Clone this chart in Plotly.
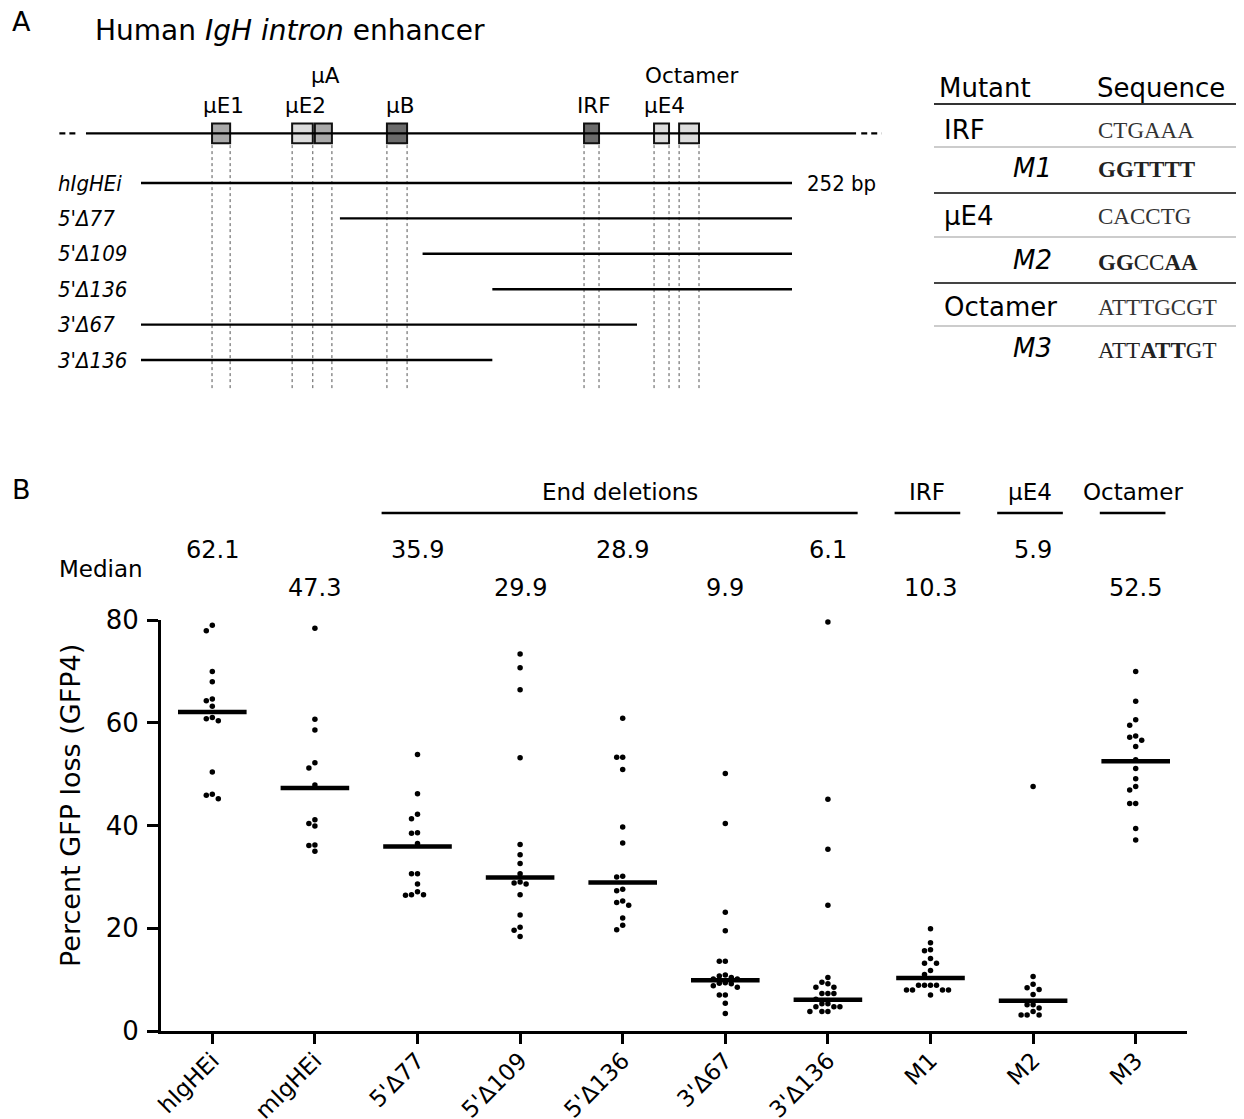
import plotly.graph_objects as go

W, H = 1244, 1119
OFF_X, OFF_Y = 8, 8  # page body margin compensation
FONT = "DejaVu Sans"
COND = "DejaVu Sans Condensed, Liberation Sans Narrow, DejaVu Sans"
SEQF = "Liberation Serif, DejaVu Serif, serif"

# ---------------- Panel B data ----------------
categories = ["hIgHEi", "mIgHEi", "5'Δ77", "5'Δ109", "5'Δ136",
              "3'Δ67", "3'Δ136", "M1", "M2", "M3"]
medians = [62.1, 47.3, 35.9, 29.9, 28.9, 9.9, 6.1, 10.3, 5.9, 52.5]

v_hIgHEi = [79.0, 77.9, 70.0, 68.0, 64.6, 64.3, 63.2, 61.0, 60.8, 60.4, 50.4, 46.1, 45.9, 45.2]
v_mIgHEi = [78.4, 60.7, 58.6, 52.2, 51.2, 47.9, 41.1, 40.4, 39.9, 36.2, 36.1, 35.0]
v_d5_77 = [53.8, 46.2, 42.2, 41.3, 38.6, 38.5, 36.5, 30.6, 30.6, 28.6, 27.1, 26.5, 26.5, 26.4]
v_d5_109 = [73.4, 70.7, 66.4, 53.2, 36.3, 34.3, 32.6, 30.6, 29.0, 28.8, 28.6, 26.5, 22.6, 20.2, 19.6, 18.4]
v_d5_136 = [60.9, 53.3, 53.3, 50.9, 39.7, 36.6, 30.1, 30.0, 27.6, 27.3, 25.3, 25.0, 24.5, 22.0, 20.6, 19.7]
v_d3_67 = [50.1, 40.4, 23.1, 19.5, 13.6, 13.6, 10.9, 10.7, 10.4, 10.1, 10.1, 9.4, 9.3, 9.2,
           8.8, 8.5, 7.0, 7.0, 5.4, 3.4]
v_d3_136 = [79.6, 45.1, 35.4, 24.5, 10.4, 9.5, 9.2, 8.5, 8.5, 7.3, 7.3, 7.3, 6.2, 5.3, 5.3,
            4.7, 4.7, 4.7, 3.8, 3.8, 3.8]
v_M1 = [19.9, 17.2, 15.8, 15.6, 14.1, 13.2, 13.2, 11.8, 11.0, 8.9, 8.9, 8.9, 8.9,
        8.0, 8.0, 8.0, 8.0, 7.0]
v_M2 = [47.6, 10.6, 9.1, 8.4, 8.1, 7.1, 5.1, 5.1, 4.5, 3.8, 3.1, 3.1, 3.1]
v_M3 = [70.0, 64.2, 60.6, 59.5, 57.4, 57.2, 56.6, 55.4, 52.8, 51.1, 49.1, 47.6, 46.9,
        44.3, 44.3, 39.4, 37.2]
group_values = [v_hIgHEi, v_mIgHEi, v_d5_77, v_d5_109, v_d5_136,
                v_d3_67, v_d3_136, v_M1, v_M2, v_M3]

groups = ["End deletions", "IRF", "μE4", "Octamer"]
group_first = [2, 7, 8, 9]
group_last = [6, 7, 8, 9]

y_ticks = [0, 20, 40, 60, 80]

# ---------------- Panel A data ----------------
elements = ["μE1", "μE2", "μA", "μB", "IRF", "μE4", "Octamer"]
el_start = [27.5, 58.5, 67.3, 95.2, 171.5, 198.6, 208.3]
el_end = [34.5, 66.5, 73.9, 103.0, 177.3, 204.4, 216.0]
el_color = ["#a9a9a9", "#dcdcdc", "#a9a9a9", "#6b6b6b", "#6b6b6b", "#dcdcdc", "#dcdcdc"]
el_raised = [False, False, True, False, False, False, True]

constructs = ["hIgHEi", "5'Δ77", "5'Δ109", "5'Δ136", "3'Δ67", "3'Δ136"]
con_start = [0, 77, 109, 136, 0, 0]
con_end = [252, 252, 252, 252, 192, 136]
full_length_label = "252 bp"

table_sites = ["IRF", "μE4", "Octamer"]
table_wt = ["CTGAAA", "CACCTG", "ATTTGCGT"]
table_mut_names = ["M1", "M2", "M3"]
table_mut_seq = ["<b>GGTTTT</b>", "<b>GG</b>CC<b>AA</b>", "ATT<b>ATT</b>GT"]


def px(x):
    return (x - OFF_X) / W


def py(y):
    return 1 - (y - OFF_Y) / H


fig = go.Figure()

# ---- Panel B geometry (layout only)
XL, XR, YT, YB = 161, 1187, 620, 1031
ppu_x = (XR - XL) / 10.0
ppu_y = (YB - YT) / 80.0


def swarm(vals, step=6.0, dmin=6.0):
    placed = []
    offs = [0.0] * len(vals)
    order = sorted(range(len(vals)), key=lambda i: -vals[i])
    cands = [0.0]
    for n in range(1, 25):
        cands += [-n * step, n * step]
    for i in order:
        yv = vals[i] * ppu_y
        for c in cands:
            if all((c - a) ** 2 + (yv - b) ** 2 >= dmin ** 2 for a, b in placed):
                break
        placed.append((c, yv))
        offs[i] = c / ppu_x
    return offs


for gi, vals in enumerate(group_values):
    offs = swarm(vals)
    fig.add_trace(go.Scatter(
        x=[gi + o for o in offs], y=vals, mode="markers",
        marker=dict(size=5.5, color="black"), cliponaxis=False,
        showlegend=False, hoverinfo="skip", xaxis="x", yaxis="y"))

fig.add_trace(go.Scatter(
    x=list(range(len(categories))), y=medians, mode="markers",
    marker=dict(symbol="line-ew", size=49, line=dict(width=4.5, color="black")),
    cliponaxis=False, showlegend=False, hoverinfo="skip", xaxis="x", yaxis="y"))

# ---- Panel A geometry: bp -> pixel and row -> pixel maps (layout only)
BP0_PX, BP_SCALE = 141.0, (792.0 - 141.0) / 252.0
ROW0_PX, ROW_SCALE = 147.6, 35.4
A_TOP, A_BOT = OFF_Y, 400.0
x2_range = [(OFF_X - BP0_PX) / BP_SCALE, (OFF_X + W - BP0_PX) / BP_SCALE]
y2_range = [(A_BOT - ROW0_PX) / ROW_SCALE, (A_TOP - ROW0_PX) / ROW_SCALE]

MAP_ROW = -0.4
fig.add_trace(go.Scatter(x=[-21.3, 276.8], y=[MAP_ROW, MAP_ROW], mode="lines",
                         line=dict(color="black", width=2.2), showlegend=False,
                         hoverinfo="skip", xaxis="x2", yaxis="y2"))
for s, e in [(-31.6, -24.0), (278.8, 286.6)]:
    fig.add_trace(go.Scatter(x=[s, e], y=[MAP_ROW, MAP_ROW], mode="lines",
                             line=dict(color="black", width=2.2, dash="6px,4px"),
                             showlegend=False, hoverinfo="skip", xaxis="x2", yaxis="y2"))

# dotted guides at element edges
edges = []
for s, e in zip(el_start, el_end):
    for v in (s, e):
        if all(abs(v - u) > 1.5 for u in edges):
            edges.append(v)
gx, gy = [], []
for v in edges:
    gx += [v, v, None]
    gy += [-0.07, 6.85, None]
fig.add_trace(go.Scatter(x=gx, y=gy, mode="lines",
                         line=dict(color="#555555", width=1, dash="dot"),
                         showlegend=False, hoverinfo="skip", xaxis="x2", yaxis="y2"))

# element boxes
fig.add_trace(go.Bar(
    x=[e - s for s, e in zip(el_start, el_end)], base=el_start,
    y=[MAP_ROW] * len(elements), orientation="h", width=0.56,
    marker=dict(color=el_color, line=dict(color="#111111", width=2)),
    showlegend=False, hoverinfo="skip", xaxis="x2", yaxis="y2"))

# construct lines
for r, (s, e) in enumerate(zip(con_start, con_end), start=1):
    fig.add_trace(go.Scatter(x=[s, e], y=[r, r], mode="lines",
                             line=dict(color="black", width=2.4),
                             showlegend=False, hoverinfo="skip", xaxis="x2", yaxis="y2"))

ann = []


def text(t, x, y, size, xanchor="center", family=FONT, xref="paper", yref="paper",
         yanchor="middle", angle=0, color="black"):
    ann.append(dict(text=t, x=px(x) if xref == "paper" else x,
                    y=py(y) if yref == "paper" else y,
                    xref=xref, yref=yref, xanchor=xanchor, yanchor=yanchor,
                    showarrow=False, textangle=angle,
                    font=dict(family=family, size=size, color=color)))


# Panel A texts
text("A", 10, 22, 27, xanchor="left")
text("Human <i>IgH intron</i> enhancer", 93, 31, 28, xanchor="left")
for name, s, e, raised in zip(elements, el_start, el_end, el_raised):
    text(name, (s + e) / 2 + 1.0, -2.05 if raised else -1.18, 21.5,
         xref="x2", yref="y2")
for r, name in enumerate(constructs, start=1):
    ann.append(dict(text="<i>" + name + "</i>", x=px(56), y=r, xref="paper", yref="y2",
                    xanchor="left", yanchor="middle", showarrow=False,
                    font=dict(family=COND, size=22, color="black")))
ann.append(dict(text=full_length_label, x=con_end[0] + 5.0, y=1, xref="x2", yref="y2",
                xanchor="left", yanchor="middle", showarrow=False,
                font=dict(family=COND, size=22, color="black")))

# Table
text("Mutant", 937, 88, 26, xanchor="left")
text("Sequence", 1095, 88, 26, xanchor="left")
row_y_site = [130, 216, 307]
row_y_mut = [168, 260, 348]
for i in range(3):
    text(table_sites[i], 942, row_y_site[i], 26, xanchor="left")
    text(table_wt[i], 1096, row_y_site[i] + 1, 23, xanchor="left", family=SEQF,
         color="#333333")
    text("<i>" + table_mut_names[i] + "</i>", 1054, row_y_mut[i], 26, xanchor="right")
    text(table_mut_seq[i], 1096, row_y_mut[i] + 2, 23, xanchor="left", family=SEQF,
         color="#222222")

shapes = []
for yline, col, wd in [(104, "#333333", 2), (147, "#bbbbbb", 1.5), (193, "#444444", 2),
                       (237, "#bbbbbb", 1.5), (283, "#444444", 2), (326, "#bbbbbb", 1.5)]:
    shapes.append(dict(type="line", xref="paper", yref="paper", x0=px(934), x1=1,
                       y0=py(yline), y1=py(yline), line=dict(color=col, width=wd)))

# Panel B texts
text("B", 10, 490, 27, xanchor="left")
for g, a, b in zip(groups, group_first, group_last):
    x0, x1 = a - 0.35, b + 0.29
    shapes.append(dict(type="line", xref="x", yref="paper", x0=x0, x1=x1,
                       y0=py(513), y1=py(513), line=dict(color="black", width=2.5)))
    ann.append(dict(text=g, x=(x0 + x1) / 2, y=py(492), xref="x", yref="paper",
                    xanchor="center", yanchor="middle", showarrow=False,
                    font=dict(family=FONT, size=23, color="black")))
text("Median", 57, 569, 23, xanchor="left")
for i, m in enumerate(medians):
    ann.append(dict(text=f"{m:.1f}", x=i, y=py(550 if i % 2 == 0 else 588),
                    xref="x", yref="paper", xanchor="center", yanchor="middle",
                    showarrow=False, font=dict(family=FONT, size=24, color="black")))
text("Percent GFP loss (GFP4)", 70, 806, 27, angle=-90)

fig.update_layout(
    width=W, height=H, margin=dict(l=0, r=0, t=0, b=0, autoexpand=False),
    paper_bgcolor="white", plot_bgcolor="white", showlegend=False,
    annotations=ann, shapes=shapes, barmode="overlay",
    xaxis=dict(domain=[px(XL), px(XR)], range=[-0.5, 9.5], anchor="y",
               tickvals=list(range(len(categories))), ticktext=categories,
               tickangle=-45, tickfont=dict(family=FONT, size=23, color="black"),
               ticklabelstandoff=-6,
               showline=True, linewidth=3, linecolor="black", ticks="outside",
               ticklen=10, tickwidth=3, tickcolor="black", showgrid=False,
               zeroline=False, fixedrange=True, automargin=False),
    yaxis=dict(domain=[py(YB), py(YT)], range=[0, 80], anchor="x",
               tickvals=y_ticks, tickfont=dict(family=FONT, size=26, color="black"),
               ticklabelstandoff=3,
               showline=True, linewidth=3, linecolor="black", ticks="outside",
               ticklen=11, tickwidth=3, tickcolor="black", showgrid=False,
               zeroline=False, fixedrange=True, automargin=False),
    xaxis2=dict(domain=[0, 1], range=x2_range, anchor="y2",
                visible=False, fixedrange=True, automargin=False),
    yaxis2=dict(domain=[py(A_BOT), 1], range=y2_range, anchor="x2",
                visible=False, fixedrange=True, automargin=False),
)

fig.write_html("out.html")
